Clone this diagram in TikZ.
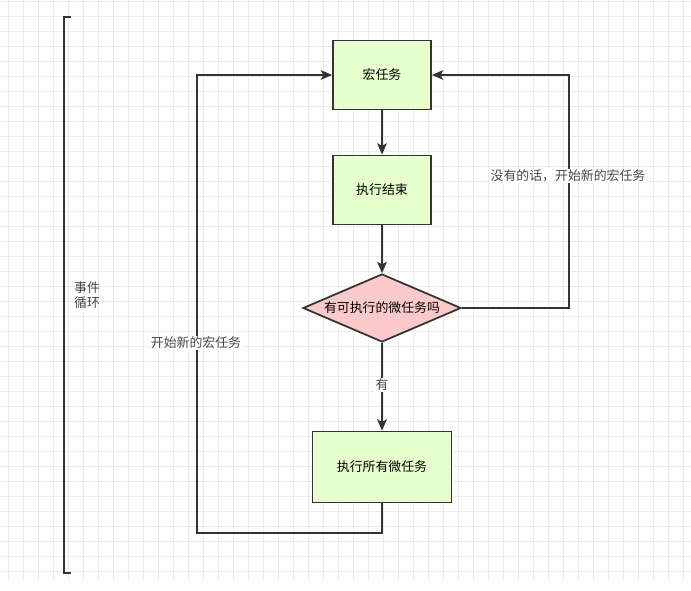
\documentclass[tikz,border=0pt]{standalone}
\usepackage{fontspec}
\setmainfont{Noto Sans CJK SC}
\usetikzlibrary{shapes.geometric, arrows.meta, positioning, calc}
\definecolor{taskgreen}{HTML}{E6FFCC}
\definecolor{askpink}{HTML}{FACACA}
\definecolor{ink}{HTML}{333333}
\definecolor{gridgray}{HTML}{EBEBEB}

\begin{document}
\begin{tikzpicture}[
  x=0.03cm, y=-0.03cm,
  font=\fontsize{11}{12.8}\selectfont,
  box/.style={rectangle, draw=ink, line width=1.5pt, fill=taskgreen,
              minimum width=2.94cm, minimum height=2.07cm, align=center},
  widebox/.style={box, minimum width=4.17cm, minimum height=2.13cm},
  decision/.style={diamond, draw=ink, line width=1.5pt, fill=askpink,
                   minimum width=4.74cm, minimum height=2.04cm, inner sep=0pt},
  arr/.style={-{Stealth[length=0.34cm, width=0.29cm, inset=0.08cm]},
              draw=ink, line width=1.5pt},
  tag/.style={fill=white, inner sep=1pt, text=ink!90},
  gridline/.style={draw=gridgray, line width=0.5pt},
]
  \useasboundingbox (0,0) rectangle (691,591);
  \fill[white] (0,0) rectangle (691,591);

  % background grid
  \foreach \gx in {0,...,45}
    \draw[gridline] ({8.3+15*\gx},0) -- ({8.3+15*\gx},582);
  \foreach \gy in {0,...,38}
    \draw[gridline] (0,{1.7+15*\gy}) -- (691,{1.7+15*\gy});

  % event loop bracket
  \draw[draw=ink, line width=1.5pt] (71,17) -- (64,17) -- (64,573) -- (71,573);
  \node[align=left, text=ink!90] (loop) at (87,295) {事件\\循环};

  \node[box]      (macro) at (382,75)  {宏任务};
  \node[box]      (done)  at (382,190) {执行结束};
  \node[decision, label={center:有可执行的微任务吗}] (ask) at (382,308) {};
  \node[widebox]  (micro) at (382,467) {执行所有微任务};

  \draw[arr] (macro) -- (done);
  \draw[arr] (done)  -- (ask);
  \draw[arr] (ask)   -- node[tag, pos=0.48] (yes) {有} (micro);

  % loops back to the macro task
  \coordinate (lowleft) at (197,533);
  \coordinate (rightturn) at (569,308);
  \draw[arr] (micro.south) |- (lowleft) |- (macro.west);
  \draw[arr] (ask.east) -- (rightturn) |- (macro.east);

  \node[tag] (newleft)  at (196,343) {开始新的宏任务};
  \node[tag] (newright) at (568,176) {没有的话，开始新的宏任务};
\end{tikzpicture}
\end{document}
